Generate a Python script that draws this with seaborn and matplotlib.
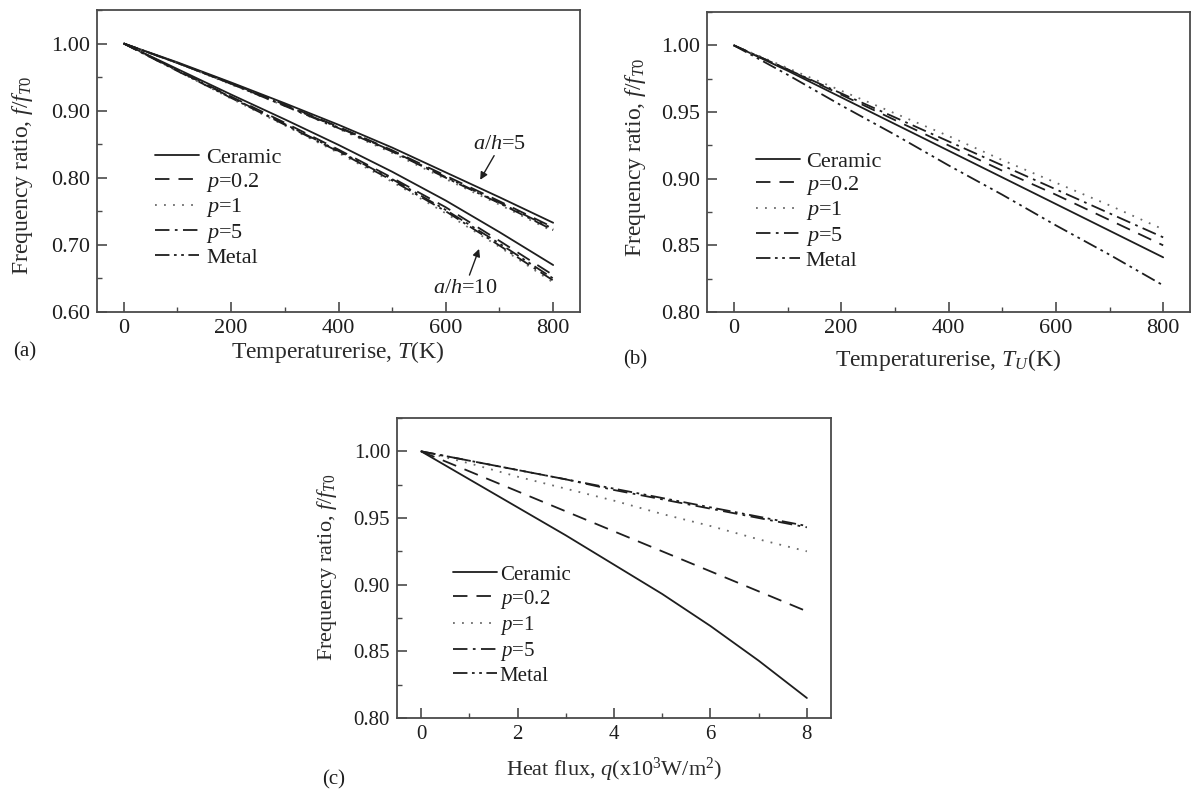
import matplotlib
matplotlib.use("Agg")
import matplotlib.pyplot as plt
from matplotlib.ticker import MultipleLocator, FormatStrFormatter
import seaborn as sns

# ---- data -------------------------------------------------------------
materials = ["Ceramic", "p=0.2", "p=1", "p=5", "Metal"]
legend_labels = ["Ceramic", r"$p$=0.2", r"$p$=1", r"$p$=5", "Metal"]

temp_rise = [0, 100, 200, 300, 400, 500, 600, 700, 800]

# (a) uniform temperature rise, two aspect ratios
ah5_ceramic = [1.000, 0.972, 0.942, 0.911, 0.879, 0.845, 0.808, 0.771, 0.733]
ah5_p02 = [1.000, 0.971, 0.941, 0.909, 0.876, 0.841, 0.803, 0.765, 0.726]
ah5_p1 = [1.000, 0.971, 0.939, 0.907, 0.873, 0.837, 0.798, 0.760, 0.720]
ah5_p5 = [1.000, 0.971, 0.940, 0.907, 0.874, 0.839, 0.800, 0.762, 0.722]
ah5_metal = [1.000, 0.971, 0.940, 0.908, 0.875, 0.840, 0.801, 0.763, 0.724]

ah10_ceramic = [1.000, 0.962, 0.924, 0.887, 0.849, 0.809, 0.766, 0.719, 0.670]
ah10_p02 = [1.000, 0.960, 0.921, 0.882, 0.842, 0.800, 0.756, 0.706, 0.655]
ah10_p1 = [1.000, 0.959, 0.918, 0.878, 0.837, 0.794, 0.747, 0.697, 0.644]
ah10_p5 = [1.000, 0.959, 0.919, 0.879, 0.839, 0.796, 0.750, 0.699, 0.647]
ah10_metal = [1.000, 0.960, 0.920, 0.880, 0.840, 0.798, 0.752, 0.702, 0.650]

# (b) upper-surface temperature rise
tu_ceramic = [1.000, 0.981, 0.961, 0.941, 0.921, 0.901, 0.881, 0.861, 0.841]
tu_p02 = [1.000, 0.982, 0.963, 0.944, 0.925, 0.906, 0.888, 0.869, 0.850]
tu_p1 = [1.000, 0.983, 0.966, 0.949, 0.932, 0.914, 0.897, 0.880, 0.862]
tu_p5 = [1.000, 0.982, 0.964, 0.946, 0.928, 0.910, 0.892, 0.874, 0.856]
tu_metal = [1.000, 0.978, 0.955, 0.933, 0.910, 0.888, 0.865, 0.843, 0.820]

# (c) heat flux (x10^3 W/m^2)
heat_flux = [0, 1, 2, 3, 4, 5, 6, 7, 8]
q_ceramic = [1.000, 0.979, 0.958, 0.937, 0.915, 0.893, 0.869, 0.843, 0.815]
q_p02 = [1.000, 0.985, 0.970, 0.955, 0.940, 0.925, 0.910, 0.895, 0.880]
q_p1 = [1.000, 0.991, 0.981, 0.972, 0.963, 0.953, 0.944, 0.934, 0.925]
q_p5 = [1.000, 0.993, 0.986, 0.979, 0.971, 0.964, 0.957, 0.950, 0.943]
q_metal = [1.000, 0.993, 0.986, 0.979, 0.972, 0.965, 0.958, 0.951, 0.944]

# ---- styling ----------------------------------------------------------
sns.set_theme(style="white")
plt.rcParams["font.family"] = ["Liberation Serif", "DejaVu Serif"]
plt.rcParams["mathtext.fontset"] = "custom"
plt.rcParams["mathtext.rm"] = "Liberation Serif"
plt.rcParams["mathtext.it"] = "Liberation Serif:italic"
plt.rcParams["mathtext.bf"] = "Liberation Serif:bold"

INK = "#1e1e1e"
SPINE = "#4a4a4a"
line_styles = {
    "Ceramic": dict(color=INK, linestyle="-"),
    "p=0.2": dict(color=INK, linestyle=(0, (8, 5))),
    "p=1": dict(color="#6a6a6a", linestyle=(0, (1, 4))),
    "p=5": dict(color=INK, linestyle=(0, (8, 3, 1.5, 3))),
    "Metal": dict(color=INK, linestyle=(0, (8, 2.5, 1.5, 2.5, 1.5, 2.5))),
}
LW = 1.3

fig = plt.figure(figsize=(11.92, 7.92), dpi=100)
W, H = 1192, 792


def px_axes(left, top, right, bottom):
    return fig.add_axes([left / W, 1 - bottom / H, (right - left) / W, (bottom - top) / H])


def style_axes(ax, xmaj, xmin, ymaj, ymin, fmt, tick_fs):
    ax.xaxis.set_major_locator(MultipleLocator(xmaj))
    ax.xaxis.set_minor_locator(MultipleLocator(xmin))
    ax.yaxis.set_major_locator(MultipleLocator(ymaj))
    ax.yaxis.set_minor_locator(MultipleLocator(ymin))
    ax.yaxis.set_major_formatter(FormatStrFormatter(fmt))
    ax.tick_params(which="major", direction="in", length=7, width=1.2,
                   color=SPINE, labelsize=tick_fs, labelcolor=INK, pad=5,
                   left=True, bottom=True, top=False, right=False)
    ax.tick_params(which="minor", direction="in", length=3.5, width=1.0,
                   color=SPINE, left=True, bottom=True, top=False, right=False)
    for s in ax.spines.values():
        s.set_visible(True)
        s.set_color(SPINE)
        s.set_linewidth(1.3)
    ax.grid(False)


def draw_group(ax, x, series):
    for name, y in zip(materials, series):
        sns.lineplot(x=x, y=y, ax=ax, lw=LW, **line_styles[name])


def place_labels(ax, xlabel, ylabel, xl, yl, fs):
    ax.set_xlabel(xlabel, fontsize=fs, color="#2a2a2a")
    ax.set_ylabel(ylabel, fontsize=fs, color="#2a2a2a")
    ax.xaxis.set_label_coords(*xl)
    ax.yaxis.set_label_coords(*yl)
    ax.xaxis.label.set_va("center")
    ax.yaxis.label.set_va("center")


def add_legend(ax, anchor, fs, hl, tp, ls):
    handles = ax.get_lines()[:5]
    leg = ax.legend(handles, legend_labels, loc="upper left", bbox_to_anchor=anchor,
                    frameon=False, fontsize=fs, handlelength=hl, handletextpad=tp,
                    labelspacing=ls, borderpad=0, borderaxespad=0)
    for t in leg.get_texts():
        t.set_color(INK)


def pointer(ax, label, text_xy, tail, tip):
    ax.text(*text_xy, label, fontsize=16, ha="center", va="center", color=INK)
    ax.annotate("", xy=tip, xytext=tail,
                arrowprops=dict(arrowstyle="-|>", color=INK, lw=1.0,
                                mutation_scale=11, shrinkA=0, shrinkB=0))


ylabel_text = r"Frequency ratio, $f/f_{T0}$"

# ---- (a) --------------------------------------------------------------
ax_a = px_axes(97, 10, 580, 312)
draw_group(ax_a, temp_rise, [ah5_ceramic, ah5_p02, ah5_p1, ah5_p5, ah5_metal])
draw_group(ax_a, temp_rise, [ah10_ceramic, ah10_p02, ah10_p1, ah10_p5, ah10_metal])
ax_a.set_xlim(-50, 850)
ax_a.set_ylim(0.60, 1.05)
style_axes(ax_a, 200, 100, 0.10, 0.05, "%.2f", 16)
place_labels(ax_a, r"Temperaturerise, $T$(K)", ylabel_text,
             (0.499, -0.132), (-0.155, 0.454), 17)
add_legend(ax_a, (0.12, 0.545), 16, 2.0, 0.3, 0.12)
pointer(ax_a, r"$a/h$=5", (700, 0.849), (690, 0.833), (664, 0.797))
pointer(ax_a, r"$a/h$=10", (636, 0.635), (644, 0.655), (662, 0.694))

# ---- (b) --------------------------------------------------------------
ax_b = px_axes(707, 12, 1190, 312)
draw_group(ax_b, temp_rise, [tu_ceramic, tu_p02, tu_p1, tu_p5, tu_metal])
ax_b.set_xlim(-50, 850)
ax_b.set_ylim(0.80, 1.025)
style_axes(ax_b, 200, 100, 0.05, 0.025, "%.2f", 16)
place_labels(ax_b, r"Temperaturerise, $T_U$(K)", ylabel_text,
             (0.5, -0.16), (-0.149, 0.517), 17)
add_legend(ax_b, (0.101, 0.535), 16, 2.0, 0.25, 0.1)

# ---- (c) --------------------------------------------------------------
ax_c = px_axes(397, 418, 831, 718)
draw_group(ax_c, heat_flux, [q_ceramic, q_p02, q_p1, q_p5, q_metal])
ax_c.set_xlim(-0.5, 8.5)
ax_c.set_ylim(0.80, 1.025)
style_axes(ax_c, 2, 1, 0.05, 0.025, "%.2f", 15)
place_labels(ax_c, r"Heat flux, $q$(x10$^3$W/m$^2$)", ylabel_text,
             (0.5, -0.173), (-0.161, 0.503), 16)
add_legend(ax_c, (0.129, 0.51), 15, 2.1, 0.15, 0.15)

# ---- panel tags -------------------------------------------------------
fig.text(13 / W, 1 - 352 / H, "(a)", fontsize=15, color=INK, va="center", ha="left")
fig.text(623 / W, 1 - 360 / H, "(b)", fontsize=15, color=INK, va="center", ha="left")
fig.text(322 / W, 1 - 780 / H, "(c)", fontsize=15, color=INK, va="center", ha="left")

fig.savefig("out.png", dpi=100, facecolor="white")
